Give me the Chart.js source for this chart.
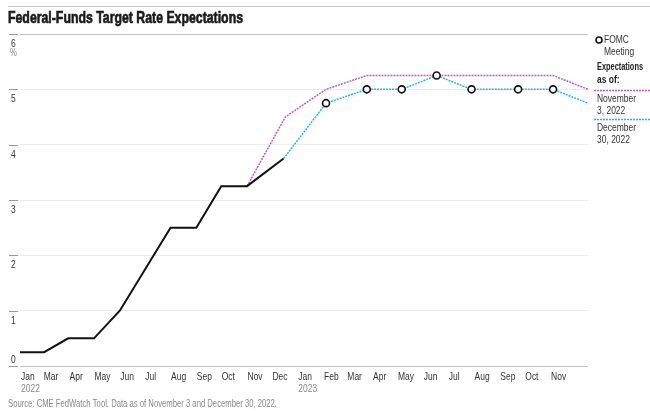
<!DOCTYPE html>
<html>
<head>
<meta charset="utf-8">
<script src="https://cdn.jsdelivr.net/npm/chart.js@4"></script>
<style>
  html, body { margin: 0; padding: 0; background: #fff; }
  #wrap { width: 650px; height: 412px; position: relative; }
</style>
</head>
<body>
<div id="wrap"><canvas id="rateChart" width="650" height="412"></canvas></div>
<script>
// data
const actualDates = ["2022-01-29", "2022-02-27", "2022-03-28", "2022-04-28", "2022-05-29",
  "2022-07-29", "2022-08-29", "2022-09-28", "2022-10-29", "2022-12-12"];
const actualRates = [0.25, 0.25, 0.5, 0.5, 1.0, 2.5, 2.5, 3.25, 3.25, 3.75];

const novDates = ["2022-10-29", "2022-12-14", "2023-02-01", "2023-03-22", "2023-05-03",
  "2023-06-14", "2023-07-26", "2023-09-20", "2023-11-01", "2023-12-13"];
const novRates = [3.25, 4.5, 5.0, 5.25, 5.25, 5.25, 5.25, 5.25, 5.25, 5.0];

const decDates = ["2022-12-12", "2023-02-01", "2023-03-22", "2023-05-03", "2023-06-14",
  "2023-07-26", "2023-09-20", "2023-11-01", "2023-12-13"];
const decRates = [3.75, 4.75, 5.0, 5.0, 5.25, 5.0, 5.0, 5.0, 4.75];

const fomcDates = ["2023-02-01", "2023-03-22", "2023-05-03", "2023-06-14",
  "2023-07-26", "2023-09-20", "2023-11-01"];

const tickDates = ["2022-01-29", "2022-03-01", "2022-04-01", "2022-05-01", "2022-06-01",
  "2022-07-01", "2022-08-01", "2022-09-01", "2022-10-01", "2022-11-01", "2022-12-01",
  "2023-01-01", "2023-02-01", "2023-03-01", "2023-04-01", "2023-05-01", "2023-06-01",
  "2023-07-01", "2023-08-01", "2023-09-01", "2023-10-01", "2023-11-01"];
const tickLabels = ["Jan", "Mar", "Apr", "May", "Jun", "Jul", "Aug", "Sep", "Oct", "Nov", "Dec",
  "Jan", "Feb", "Mar", "Apr", "May", "Jun", "Jul", "Aug", "Sep", "Oct", "Nov"];
const yearLabels = { 0: "2022", 11: "2023" };
const yTicks = [0, 1, 2, 3, 4, 5, 6];

const X_MIN = "2022-01-29";
const X_MAX = "2023-12-13";

const FONT = "'Liberation Sans', Arial, sans-serif";
const SQUEEZE = 0.77; // no condensed face installed, so squash horizontally
const PURPLE = "#b462b4";
const CYAN = "#2bb3e6";

// days since 2022-01-01
const dayOf = (s) => {
  const [y, m, d] = s.split("-").map(Number);
  return (Date.UTC(y, m - 1, d) - Date.UTC(2022, 0, 1)) / 86400000;
};
const pts = (dates, vals) => dates.map((d, i) => ({ x: dayOf(d), y: vals[i] }));
const fomcDays = fomcDates.map(dayOf);

// narrow text: optional target width, otherwise fixed squeeze
function narrowText(ctx, text, x, y, width, heavy) {
  const sx = width ? width / ctx.measureText(text).width : SQUEEZE;
  ctx.save();
  ctx.translate(x, y);
  ctx.scale(sx, 1);
  ctx.fillText(text, 0, 0);
  if (heavy) {
    ctx.strokeStyle = ctx.fillStyle;
    ctx.lineWidth = heavy;
    ctx.strokeText(text, 0, 0);
  }
  ctx.restore();
}

const decorations = {
  id: "decorations",
  afterDraw(chart) {
    const { ctx, chartArea, scales } = chart;
    const xs = scales.x, ys = scales.y;
    ctx.save();
    ctx.textAlign = "left";
    ctx.textBaseline = "middle";

    // top rule + title
    ctx.strokeStyle = "#c8c8c8";
    ctx.lineWidth = 1;
    ctx.beginPath();
    ctx.moveTo(8, 6.5);
    ctx.lineTo(650, 6.5);
    ctx.stroke();
    ctx.fillStyle = "#1a1a1a";
    ctx.font = "bold 17px " + FONT;
    narrowText(ctx, "Federal-Funds Target Rate Expectations", 8, 18, 235, 0.7);

    // y labels and dashes
    ctx.font = "11px " + FONT;
    yTicks.forEach((v) => {
      const y = Math.round(ys.getPixelForValue(v)) + 0.5;
      ctx.strokeStyle = "#999";
      ctx.beginPath();
      ctx.moveTo(9, y);
      ctx.lineTo(18, y);
      ctx.stroke();
      ctx.fillStyle = "#333";
      narrowText(ctx, String(v), 11, v === 0 ? y - 7 : y + 9);
    });
    ctx.fillStyle = "#888";
    ctx.font = "10px " + FONT;
    narrowText(ctx, "%", 10, ys.getPixelForValue(6) + 19);

    // x labels
    ctx.font = "11px " + FONT;
    tickDates.forEach((d, i) => {
      const x = i === 0 ? chartArea.left + 1 : xs.getPixelForValue(dayOf(d)) - 2;
      ctx.fillStyle = "#333";
      narrowText(ctx, tickLabels[i], x, chartArea.bottom + 11);
      if (yearLabels[i]) {
        ctx.fillStyle = "#888";
        narrowText(ctx, yearLabels[i], x, chartArea.bottom + 23);
      }
    });

    // source
    ctx.fillStyle = "#888";
    ctx.font = "11px " + FONT;
    narrowText(ctx, "Source: CME FedWatch Tool. Data as of November 3 and December 30, 2022.", 8, 404, 269);

    // legend
    const lx = 597;
    ctx.beginPath();
    ctx.arc(lx + 2, 40, 3, 0, Math.PI * 2);
    ctx.fillStyle = "#fff";
    ctx.fill();
    ctx.strokeStyle = "#111";
    ctx.lineWidth = 1.6;
    ctx.stroke();
    ctx.fillStyle = "#333";
    ctx.font = "11px " + FONT;
    narrowText(ctx, "FOMC", lx + 7, 40);
    narrowText(ctx, "Meeting", lx + 7, 52);
    ctx.font = "bold 11px " + FONT;
    ctx.fillStyle = "#222";
    narrowText(ctx, "Expectations", lx, 67, 46);
    narrowText(ctx, "as of:", lx, 80);
    ctx.lineWidth = 1.5;
    ctx.setLineDash([2, 1]);
    ctx.strokeStyle = PURPLE;
    ctx.beginPath();
    ctx.moveTo(594, 90.5);
    ctx.lineTo(650, 90.5);
    ctx.stroke();
    ctx.strokeStyle = CYAN;
    ctx.beginPath();
    ctx.moveTo(594, 119.5);
    ctx.lineTo(650, 119.5);
    ctx.stroke();
    ctx.setLineDash([]);
    ctx.font = "11px " + FONT;
    ctx.fillStyle = "#333";
    narrowText(ctx, "November", lx, 99);
    narrowText(ctx, "3, 2022", lx, 111);
    narrowText(ctx, "December", lx, 128);
    narrowText(ctx, "30, 2022", lx, 140);

    ctx.restore();
  },
};

new Chart(document.getElementById("rateChart"), {
  type: "line",
  data: {
    datasets: [
      {
        label: "November 3, 2022",
        data: pts(novDates, novRates),
        borderColor: PURPLE,
        borderWidth: 1.5,
        borderDash: [2, 1],
        pointRadius: 0,
        tension: 0,
        order: 3,
      },
      {
        label: "Actual",
        data: pts(actualDates, actualRates),
        borderColor: "#111",
        borderWidth: 2,
        pointRadius: 0,
        tension: 0,
        order: 2,
      },
      {
        label: "December 30, 2022",
        data: pts(decDates, decRates),
        borderColor: CYAN,
        borderWidth: 1.5,
        borderDash: [2, 1],
        pointRadius: (c) => (c.raw && fomcDays.includes(c.raw.x) ? 3.5 : 0),
        pointBackgroundColor: "#fff",
        pointBorderColor: "#111",
        pointBorderWidth: 1.6,
        tension: 0,
        order: 1,
      },
    ],
  },
  options: {
    responsive: false,
    animation: false,
    clip: false,
    layout: { padding: { left: 20, right: 62, top: 34, bottom: 46 } },
    plugins: { legend: { display: false }, tooltip: { enabled: false } },
    scales: {
      x: {
        type: "linear",
        min: dayOf(X_MIN),
        max: dayOf(X_MAX),
        ticks: { display: false },
        grid: { display: false },
        border: { display: false },
        afterFit: (s) => { s.height = 0; },
      },
      y: {
        min: 0,
        max: 6,
        ticks: { display: false, stepSize: 1 },
        grid: {
          drawTicks: false,
          color: (c) => (c.tick.value === 0 || c.tick.value === 6 ? "#c4c4c4" : "#ececec"),
          lineWidth: 1,
        },
        border: { display: false },
        afterFit: (s) => { s.width = 0; },
      },
    },
  },
  plugins: [decorations],
});
</script>
</body>
</html>
